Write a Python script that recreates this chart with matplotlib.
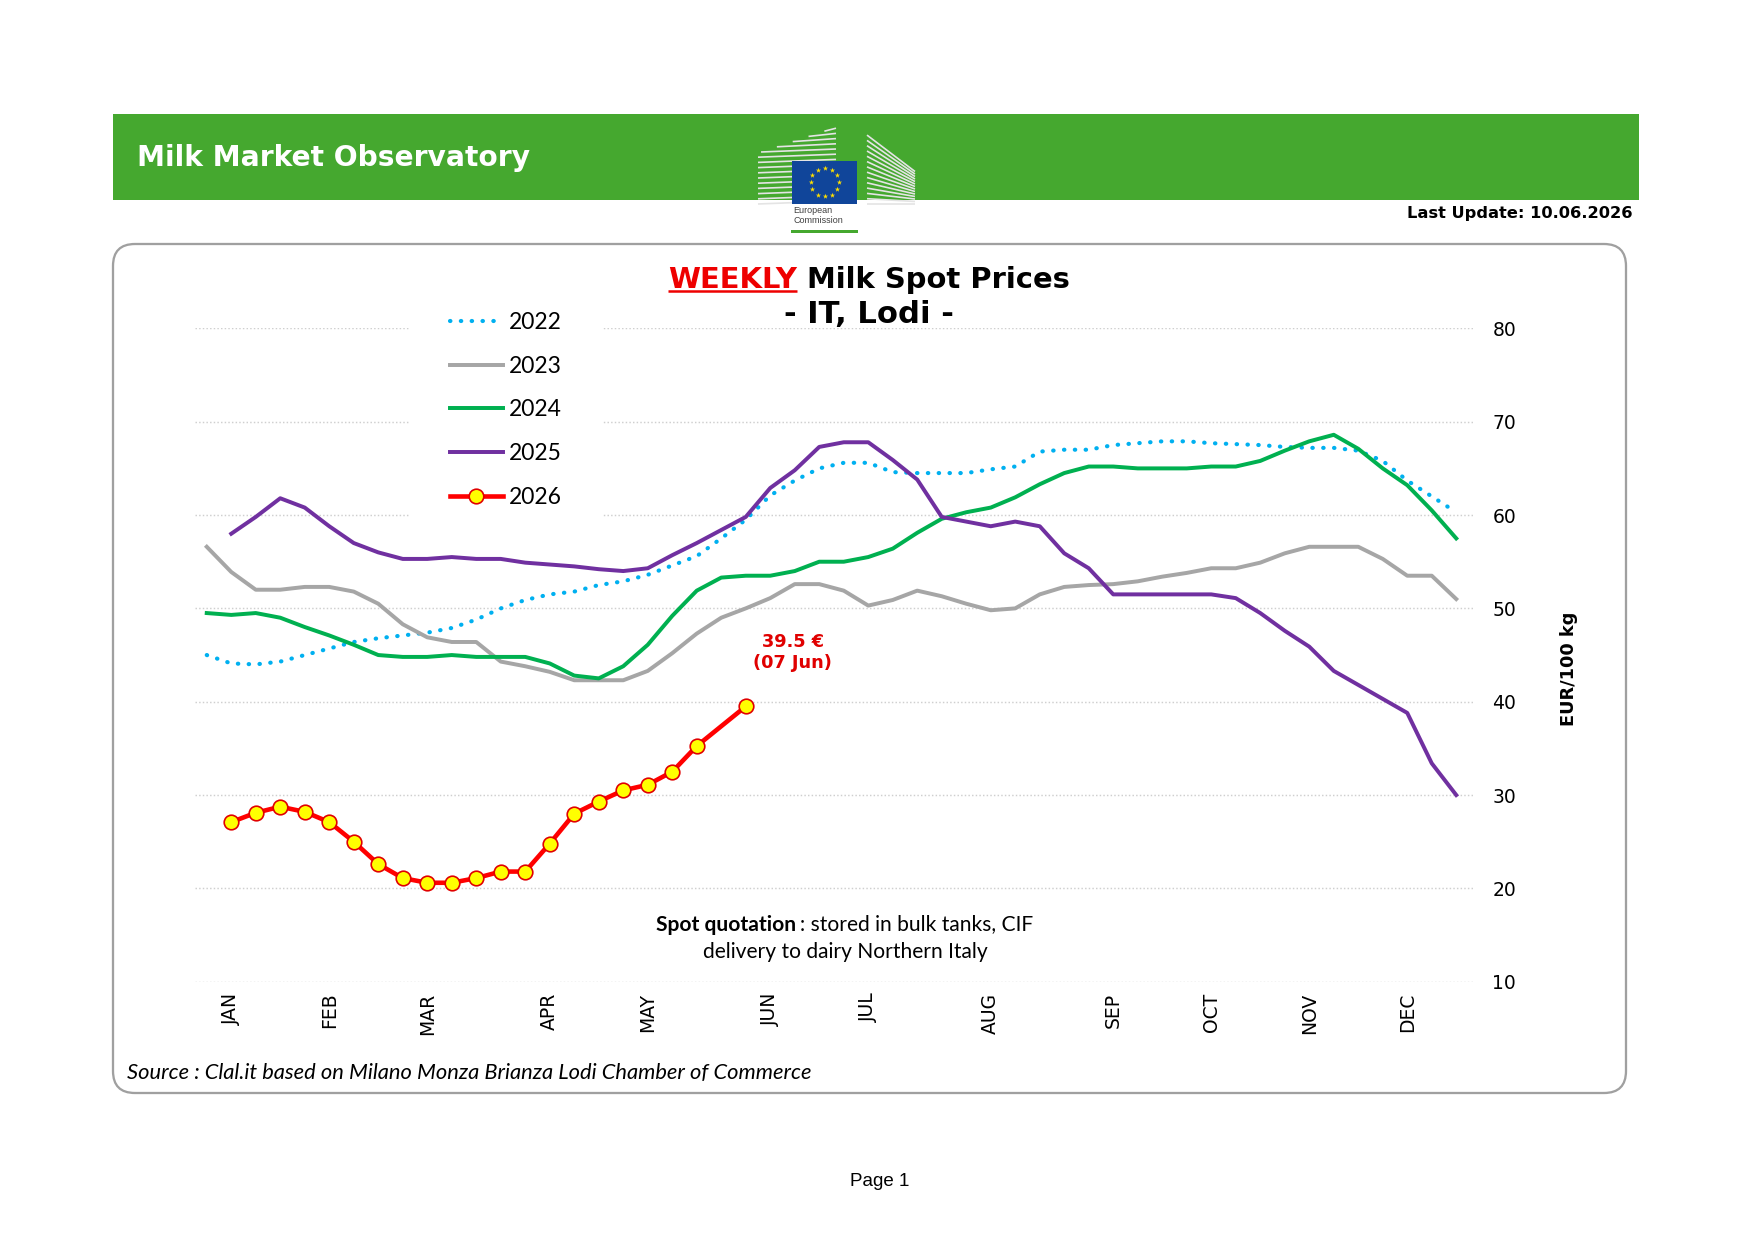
import numpy as np
import matplotlib
matplotlib.use('Agg')
import matplotlib.pyplot as plt
from matplotlib.patches import Rectangle, FancyBboxPatch

W, H = 1754, 1240

# weekly spot prices, EUR/100 kg (week slots 0..51)
weeks = np.arange(52)
p2022 = [45.0, 44.1, 44.0, 44.3, 45.0, 45.7, 46.4, 46.8, 47.1, 47.4, 47.9, 48.8, 50.0,
         50.9, 51.5, 51.8, 52.5, 52.9, 53.6, 54.6, 55.6, 57.5, 59.5, 62.1, 63.7, 65.0,
         65.6, 65.6, 64.6, 64.5, 64.5, 64.5, 64.9, 65.2, 66.8, 67.0, 67.0, 67.5, 67.7,
         67.9, 67.9, 67.7, 67.6, 67.5, 67.3, 67.2, 67.2, 66.9, 65.8, 63.7, 62.0, 60.3]
p2023 = [56.6, 53.9, 52.0, 52.0, 52.3, 52.3, 51.8, 50.5, 48.3, 46.9, 46.4, 46.4, 44.3,
         43.8, 43.2, 42.3, 42.3, 42.3, 43.3, 45.2, 47.3, 49.0, 50.0, 51.1, 52.6, 52.6,
         51.9, 50.3, 50.9, 51.9, 51.3, 50.5, 49.8, 50.0, 51.5, 52.3, 52.5, 52.6, 52.9,
         53.4, 53.8, 54.3, 54.3, 54.9, 55.9, 56.6, 56.6, 56.6, 55.3, 53.5, 53.5, 51.0]
p2024 = [49.5, 49.3, 49.5, 49.0, 48.0, 47.1, 46.1, 45.0, 44.8, 44.8, 45.0, 44.8, 44.8,
         44.8, 44.1, 42.8, 42.5, 43.8, 46.1, 49.2, 51.9, 53.3, 53.5, 53.5, 54.0, 55.0,
         55.0, 55.5, 56.4, 58.1, 59.6, 60.3, 60.8, 61.9, 63.3, 64.5, 65.2, 65.2, 65.0,
         65.0, 65.0, 65.2, 65.2, 65.8, 66.9, 67.9, 68.6, 67.1, 65.0, 63.2, 60.5, 57.5]
p2025 = [None, 58.0, 59.8, 61.8, 60.8, 58.8, 57.0, 56.0, 55.3, 55.3, 55.5, 55.3, 55.3,
         54.9, 54.7, 54.5, 54.2, 54.0, 54.3, 55.7, 57.0, 58.4, 59.8, 62.9, 64.8, 67.3,
         67.8, 67.8, 65.9, 63.8, 59.8, 59.3, 58.8, 59.3, 58.8, 55.9, 54.3, 51.5, 51.5,
         51.5, 51.5, 51.5, 51.1, 49.5, 47.6, 45.9, 43.3, 41.8, 40.3, 38.8, 33.4, 30.0]
p2026 = [None, 27.1, 28.1, 28.75, 28.2, 27.1, 25.0, 22.6, 21.1, 20.6, 20.6, 21.1, 21.8,
         21.8, 24.8, 28.0, 29.3, 30.5, 31.1, 32.5, 35.25, None, 39.5]
last_date = '07 Jun'

months = ['JAN', 'FEB', 'MAR', 'APR', 'MAY', 'JUN', 'JUL', 'AUG', 'SEP', 'OCT', 'NOV', 'DEC']
month_week = [1, 5, 9, 14, 18, 23, 27, 32, 37, 41, 45, 49]
yticks = [10, 20, 30, 40, 50, 60, 70, 80]

series = [('2022', p2022, '#00B0F0'), ('2023', p2023, '#A6A6A6'),
          ('2024', p2024, '#00B050'), ('2025', p2025, '#7030A0')]


def arr(v):
    return np.array([np.nan if x is None else x for x in v], dtype=float)


fig = plt.figure(figsize=(W / 150, H / 150), dpi=150)

# page layer in pixel coordinates
bg = fig.add_axes([0, 0, 1, 1])
bg.set_xlim(0, W)
bg.set_ylim(H, 0)
bg.axis('off')

# header banner
bg.add_patch(Rectangle((113, 114), 1526, 86, color='#45A82F', lw=0))
bg.text(137, 166.5, 'Milk Market Observatory', color='white', fontsize=13.5,
        fontweight='bold', family='DejaVu Sans', va='baseline')
bg.text(1633, 218, 'Last Update: 10.06.2026', color='black', fontsize=7.8,
        fontweight='bold', family='DejaVu Sans', ha='right', va='baseline')

# EC logo (simplified)
for k in range(15):
    y = 204 - k * 5.2
    xs = 758 if y > 153 else 758 + (153 - y) / 23 * 70
    bg.plot([xs, 836], [y, y - 3], color='#E4E4E4', lw=0.8, solid_capstyle='butt')
for k in range(14):
    yl = 204 - k * 5.3
    bg.plot([867, 915], [yl, 204 - k * 2.5], color='#E4E4E4', lw=0.8, solid_capstyle='butt')
bg.add_patch(Rectangle((792, 161), 65, 43, color='#10459A', lw=0, zorder=3))
ang = np.linspace(0, 2 * np.pi, 13)[:-1]
bg.scatter(824.5 + 14 * np.cos(ang), 182.5 + 14 * np.sin(ang), s=7, marker='*',
           color='#FFE000', lw=0, zorder=4)
bg.text(793, 213, 'European', fontsize=4.3, color='#404040', family='Liberation Sans')
bg.text(793, 223, 'Commission', fontsize=4.3, color='#404040', family='Liberation Sans')
bg.add_patch(Rectangle((791, 230.5), 67, 3, color='#45A82F', lw=0))

# chart frame
bg.add_patch(FancyBboxPatch((113, 244), 1513, 849, boxstyle='round,pad=0,rounding_size=22',
                            fc='none', ec='#A0A0A0', lw=1.1))

renderer = fig.canvas.get_renderer()


def centered_parts(parts, cx, y, gap, size, family):
    texts = []
    for s, props in parts:
        texts.append(bg.text(0, y, s, fontsize=size, family=family, va='baseline',
                             ha='left', **props))
    widths = [t.get_window_extent(renderer).width for t in texts]
    x = cx - (sum(widths) + gap * (len(texts) - 1)) / 2
    for t, w in zip(texts, widths):
        t.set_x(x)
        x += w + gap
    return texts


# title
t_weekly, _ = centered_parts([('WEEKLY', dict(color='#EE0000', fontweight='bold')),
                              ('Milk Spot Prices', dict(color='black', fontweight='bold'))],
                             869, 288.3, 10, 13.9, 'DejaVu Sans')
bb = t_weekly.get_window_extent(renderer)
bg.plot([bb.x0, bb.x1], [291.5, 291.5], color='#EE0000', lw=1.2, solid_capstyle='butt')
bg.text(869, 322.7, '- IT, Lodi -', fontsize=14.7, fontweight='bold', family='DejaVu Sans',
        ha='center', va='baseline')

# note and source
centered_parts([('Spot quotation', dict(fontweight='bold')),
                (': stored in bulk tanks, CIF', dict())], 845, 930.5, 4, 10.1, 'Lato')
bg.text(845, 958.3, 'delivery to dairy Northern Italy', fontsize=10.1, family='Lato',
        ha='center', va='baseline')
bg.text(127, 1073, 'Source : Clal.it based on Milano Monza Brianza Lodi Chamber of Commerce',
        fontsize=10.5, family='Lato', style='italic', va='center')
bg.text(880, 1181, 'Page 1', fontsize=9, family='Liberation Sans', ha='center', va='center')
bg.text(1569, 669, 'EUR/100 kg', fontsize=8.5, fontweight='bold', family='DejaVu Sans',
        rotation=90, ha='center', va='center')

# main chart
ax = fig.add_axes([194.5 / W, 1 - 981.7 / H, (1473.4 - 194.5) / W, (981.7 - 328.4) / H])
ax.set_facecolor('none')
for name, vals, col in series:
    y = arr(vals)
    if name == '2022':
        ax.plot(weeks, y, color=col, lw=2.0, linestyle=(0, (0.1, 2.5)),
                dash_capstyle='round', label=name)
    else:
        ax.plot(weeks, y, color=col, lw=1.9, label=name)

y26 = arr(p2026)
x26 = weeks[:len(y26)]
ok = ~np.isnan(y26)
ax.plot(x26[ok], y26[ok], color='#FF0000', lw=2.2, marker='o', ms=7,
        mfc='#FFFF00', mec='#E00000', mew=0.8, label='2026', zorder=5)
ax.annotate(f'{y26[ok][-1]:.1f} €\n({last_date})', xy=(x26[ok][-1], y26[ok][-1]),
            xytext=(22.6, 25.9), textcoords='offset points', ha='center', va='center',
            color='#E00000', fontsize=8.5, fontweight='bold', family='DejaVu Sans')

ax.set_xlim(-0.5, 51.7)
ax.set_ylim(10, 80)
ax.set_yticks(yticks)
ax.yaxis.tick_right()
ax.set_xticks(month_week)
ax.set_xticklabels(months, rotation=90)
ax.tick_params(axis='y', length=0, pad=9.1, labelsize=9)
ax.tick_params(axis='x', length=0, pad=5.3, labelsize=9)
ax.yaxis.grid(True, color='#CFCFCF', linestyle=(0, (1, 1.5)), lw=0.7)
ax.set_axisbelow(True)
for s in ax.spines.values():
    s.set_visible(False)

leg = ax.legend(loc='center left', bbox_to_anchor=(410 / W, 1 - 410 / H),
                bbox_transform=fig.transFigure, frameon=True, facecolor='white',
                edgecolor='none', framealpha=1, fancybox=False, borderpad=1.75,
                borderaxespad=0, handlelength=2.3, handletextpad=0.26,
                labelspacing=1.0, prop={'family': 'Lato', 'size': 11})

fig.savefig('out.png', dpi=150)
